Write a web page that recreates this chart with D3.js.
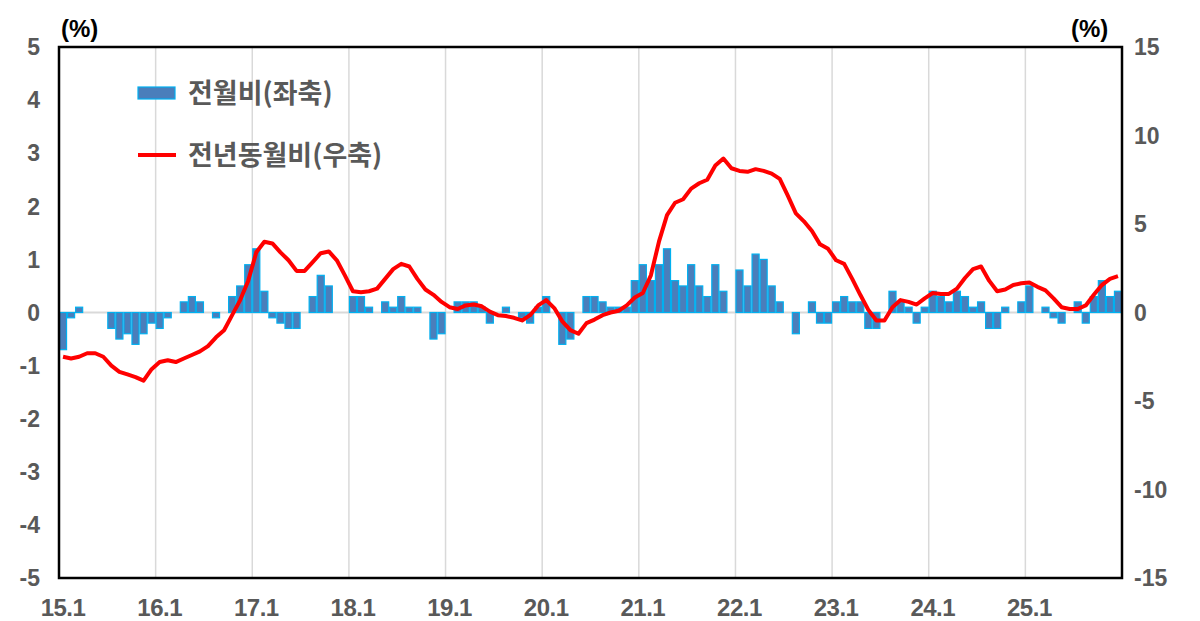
<!DOCTYPE html>
<html>
<head>
<meta charset="utf-8">
<script src="https://cdn.jsdelivr.net/npm/d3@7"></script>
<style>
  body { margin: 0; background: #fff; }
  svg text { font-family: "Liberation Sans", Arial, sans-serif; font-weight: bold; fill: #595959; }
  svg text.kr { font-family: "Noto Sans CJK KR", sans-serif; }
</style>
</head>
<body>
<svg id="chart" width="1200" height="621"></svg>
<script>
// monthly, 15.1 ~ 25.12
var years = ['15','16','17','18','19','20','21','22','23','24','25'];

// 전월비 (%), left axis
var momValues = [
  -0.7,-0.1, 0.1, 0.0, 0.0, 0.0,-0.3,-0.5,-0.4,-0.6,-0.4,-0.2,
  -0.3,-0.1, 0.0, 0.2, 0.3, 0.2, 0.0,-0.1, 0.0, 0.3, 0.5, 0.9,
   1.2, 0.4,-0.1,-0.2,-0.3,-0.3, 0.0, 0.3, 0.7, 0.5, 0.0, 0.0,
   0.3, 0.3, 0.1, 0.0, 0.2, 0.1, 0.3, 0.1, 0.1, 0.0,-0.5,-0.4,
   0.0, 0.2, 0.2, 0.2, 0.1,-0.2, 0.0, 0.1, 0.0,-0.1,-0.2, 0.1,
   0.3, 0.0,-0.6,-0.5, 0.0, 0.3, 0.3, 0.2, 0.1, 0.1, 0.1, 0.6,
   0.9, 0.6, 0.9, 1.2, 0.6, 0.5, 0.9, 0.5, 0.3, 0.9, 0.4, 0.0,
   0.8, 0.5, 1.1, 1.0, 0.5, 0.2, 0.0,-0.4, 0.0, 0.2,-0.2,-0.2,
   0.2, 0.3, 0.2, 0.2,-0.3,-0.3, 0.0, 0.4, 0.2, 0.1,-0.2, 0.1,
   0.4, 0.3, 0.2, 0.4, 0.3, 0.1, 0.2,-0.3,-0.3, 0.1, 0.0, 0.2,
   0.5, 0.0, 0.1,-0.1,-0.2, 0.0, 0.2,-0.2, 0.3, 0.6, 0.3, 0.4
];

// 전년동월비 (%), right axis
var yoyValues = [
  -2.5,-2.6,-2.5,-2.3,-2.3,-2.5,-3.0,-3.35,-3.5,-3.65,-3.85,-3.2,
  -2.8,-2.7,-2.8,-2.6,-2.4,-2.2,-1.9,-1.4,-1.0,-0.15, 0.7, 1.8,
   3.4, 4.0, 3.9, 3.4, 2.95, 2.35, 2.35, 2.85, 3.35, 3.45, 2.95, 2.1,
   1.2, 1.15, 1.2, 1.35, 1.9, 2.45, 2.75, 2.6, 1.9, 1.3, 1.0, 0.6,
   0.3, 0.2, 0.4, 0.45, 0.35, 0.05,-0.15,-0.2,-0.3,-0.45,-0.15, 0.4,
   0.7, 0.25,-0.5,-1.0,-1.2,-0.6,-0.4,-0.15, 0.0, 0.1, 0.4, 0.85,
   1.1, 2.1, 4.0, 5.5, 6.2, 6.4, 7.0, 7.3, 7.5, 8.3, 8.7, 8.15,
   8.0, 7.95, 8.1, 8.0, 7.85, 7.55, 6.6, 5.6, 5.15, 4.6, 3.85, 3.6,
   2.95, 2.75, 1.9, 1.0, 0.15,-0.45,-0.45, 0.3, 0.7, 0.6, 0.45, 0.8,
   1.1, 1.05, 1.05, 1.35, 1.95, 2.45, 2.6, 1.8, 1.2, 1.3, 1.55, 1.65,
   1.7, 1.45, 1.25, 0.8, 0.3, 0.2, 0.2, 0.4, 1.0, 1.55, 1.9, 2.05
];

var leftTicks = [5,4,3,2,1,0,-1,-2,-3,-4,-5];
var rightTicks = [15,10,5,0,-5,-10,-15];
var legendLabels = ['전월비(좌축)', '전년동월비(우축)'];

var months = [];
years.forEach(function(y){
  for(var m = 1; m <= 12; m += 1){
    months.push(y + '.' + m);
  }
});

var data = months.map(function(key, i){
  return { key: key, mom: momValues[i], yoy: yoyValues[i] };
});

var plot = { left: 59, right: 1122, top: 47, bottom: 578 };

var svg = d3.select('#chart');

var x = d3.scaleBand().domain(months).range([plot.left, plot.right]).padding(0);
var yL = d3.scaleLinear().domain([-5, 5]).range([plot.bottom, plot.top]);
var yR = d3.scaleLinear().domain([-15, 15]).range([plot.bottom, plot.top]);

var janKeys = months.filter(function(k){ return /\.1$/.test(k); });

function fmt(d){
  return d < 0 ? '-' + Math.abs(d) : '' + d;
}

// vertical grid at each January
svg.append('g')
  .selectAll('line')
  .data(janKeys.slice(1))
  .enter()
  .append('line')
  .attr('x1', function(d){ return x(d); })
  .attr('x2', function(d){ return x(d); })
  .attr('y1', plot.top)
  .attr('y2', plot.bottom)
  .style('stroke', '#d9d9d9')
  .style('stroke-width', 1.5);

// zero line
svg.append('line')
  .attr('x1', plot.left).attr('x2', plot.right)
  .attr('y1', yL(0)).attr('y2', yL(0))
  .style('stroke', '#d9d9d9')
  .style('stroke-width', 2);

// bars
svg.append('g')
  .selectAll('rect')
  .data(data.filter(function(d){ return d.mom !== 0; }))
  .enter()
  .append('rect')
  .attr('x', function(d){ return x(d.key) + 0.5; })
  .attr('width', x.bandwidth() - 1)
  .attr('y', function(d){ return Math.min(yL(d.mom), yL(0)); })
  .attr('height', function(d){ return Math.abs(yL(d.mom) - yL(0)); })
  .style('fill', '#4a7ebb')
  .style('stroke', '#00b0f0')
  .style('stroke-width', 1.2);

// yoy line
var line = d3.line()
  .x(function(d){ return x(d.key) + x.bandwidth() / 2; })
  .y(function(d){ return yR(d.yoy); });

svg.append('path')
  .datum(data)
  .attr('d', line)
  .style('fill', 'none')
  .style('stroke', '#ff0000')
  .style('stroke-width', 4)
  .style('stroke-linejoin', 'round');

// frame
svg.append('rect')
  .attr('x', plot.left).attr('y', plot.top)
  .attr('width', plot.right - plot.left)
  .attr('height', plot.bottom - plot.top)
  .style('fill', 'none')
  .style('stroke', '#000')
  .style('stroke-width', 2.5);

// left axis labels
svg.append('g')
  .selectAll('text')
  .data(leftTicks)
  .enter()
  .append('text')
  .attr('x', 40)
  .attr('y', function(d){ return yL(d); })
  .attr('dy', '0.36em')
  .attr('text-anchor', 'end')
  .style('font-size', '23px')
  .text(fmt);

// right axis labels
svg.append('g')
  .selectAll('text')
  .data(rightTicks)
  .enter()
  .append('text')
  .attr('x', 1134)
  .attr('y', function(d){ return yR(d); })
  .attr('dy', '0.36em')
  .attr('text-anchor', 'start')
  .style('font-size', '23px')
  .text(fmt);

// x labels
svg.append('g')
  .selectAll('text')
  .data(janKeys)
  .enter()
  .append('text')
  .attr('x', function(d){ return x(d) + x.bandwidth() / 2; })
  .attr('y', 616)
  .attr('text-anchor', 'middle')
  .style('font-size', '24px')
  .style('letter-spacing', '-0.5px')
  .text(function(d){ return d; });

// units
svg.append('text').attr('x', 61).attr('y', 37).style('font-size', '24px').style('fill', '#000').text('(%)');
svg.append('text').attr('x', 1071).attr('y', 37).style('font-size', '24px').style('fill', '#000').text('(%)');

// legend
svg.append('rect')
  .attr('x', 138).attr('y', 87).attr('width', 37).attr('height', 12)
  .style('fill', '#4a7ebb').style('stroke', '#00b0f0').style('stroke-width', 1.2);
svg.append('line')
  .attr('x1', 138).attr('x2', 176).attr('y1', 155).attr('y2', 155)
  .style('stroke', '#ff0000').style('stroke-width', 4);

svg.append('g')
  .selectAll('text')
  .data(legendLabels)
  .enter()
  .append('text')
  .attr('class', 'kr')
  .attr('x', 188)
  .attr('y', function(d, i){ return 93 + i * 62; })
  .attr('dy', '0.36em')
  .style('font-size', '27px')
  .text(function(d){ return d; });
</script>
</body>
</html>
